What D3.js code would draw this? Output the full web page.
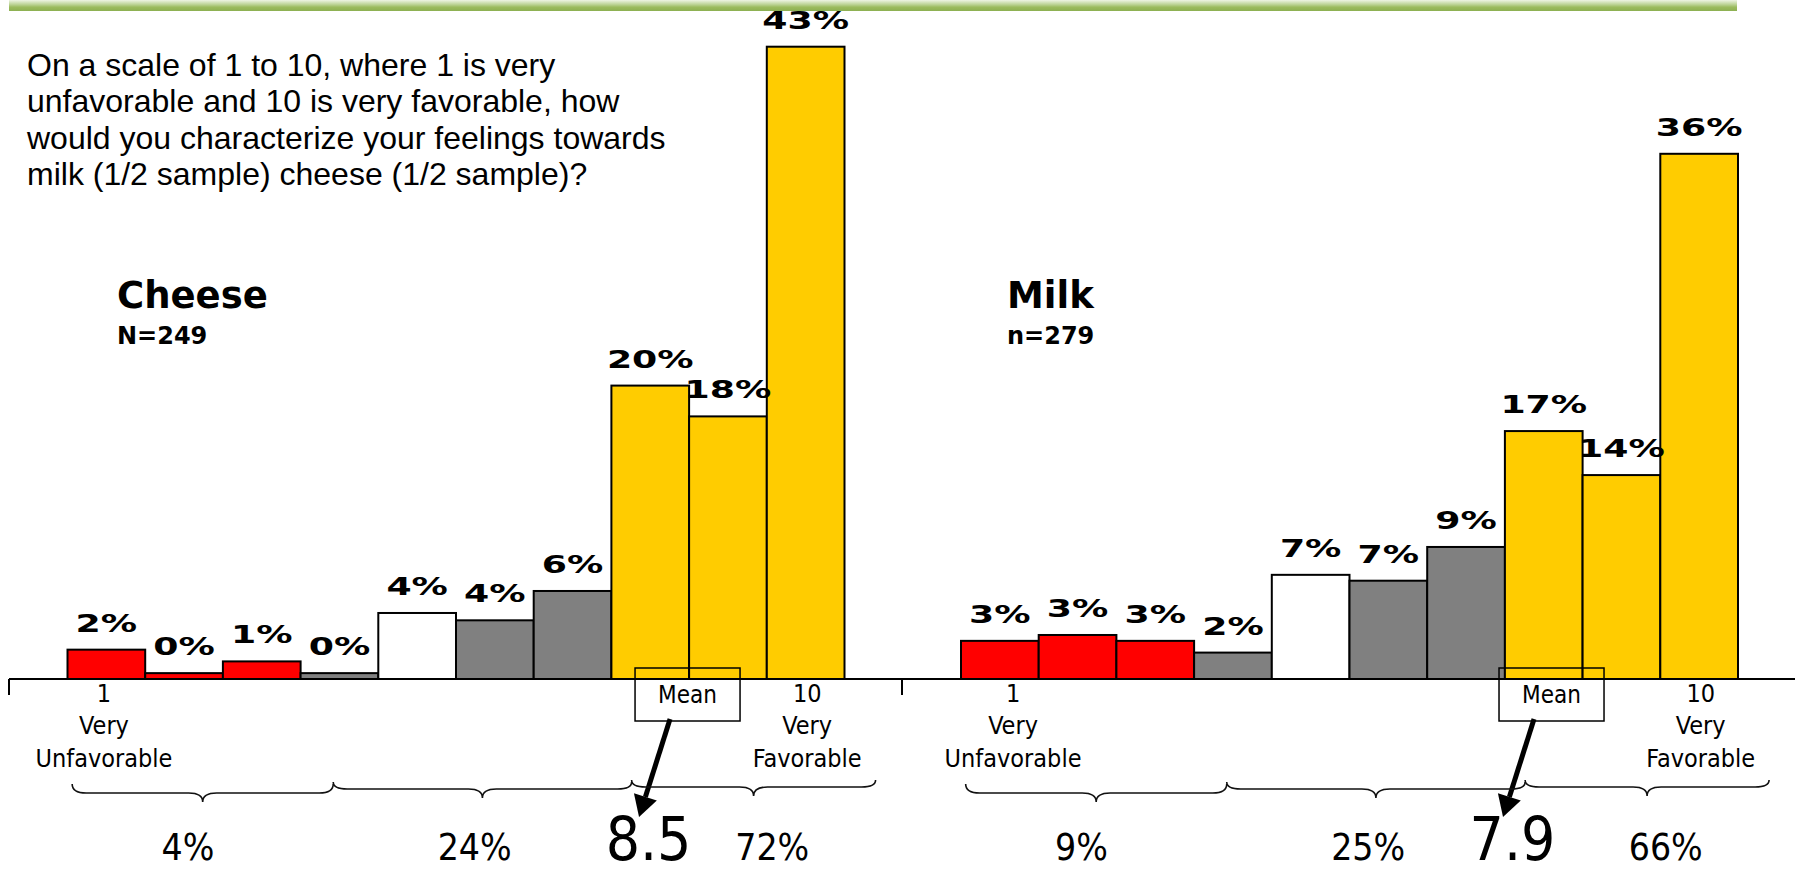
<!DOCTYPE html>
<html lang="en">
<head>
<meta charset="utf-8">
<title>Cheese and milk favorability</title>
<script src="https://cdn.jsdelivr.net/npm/d3@7/dist/d3.min.js"></script>
<style>
  body { margin: 0; background: #fff; }
  svg { display: block; }
</style>
</head>
<body>
<script>
// rating scale 1..10
var categories = [1, 2, 3, 4, 5, 6, 7, 8, 9, 10];

// share of answers per rating
var cheeseValues = [2.0, 0.4, 1.2, 0.4, 4.5, 4.0, 6.0, 20.0, 17.9, 43.1];
var milkValues   = [2.6, 3.0, 2.6, 1.8, 7.1, 6.7, 9.0, 16.9, 13.9, 35.8];

// labels printed above the bars
var cheeseLabels = ["2%", "0%", "1%", "0%", "4%", "4%", "6%", "20%", "18%", "43%"];
var milkLabels   = ["3%", "3%", "3%", "2%", "7%", "7%", "9%", "17%", "14%", "36%"];

// bottom / middle / top groups
var cheeseGroups = ["4%", "24%", "72%"];
var milkGroups   = ["9%", "25%", "66%"];

var cheeseMean = "8.5";
var milkMean = "7.9";

var barColors = ["#FF0000", "#FF0000", "#FF0000", "#808080", "#FFFFFF",
                 "#808080", "#808080", "#FFCC00", "#FFCC00", "#FFCC00"];

var question = ["On a scale of 1 to 10, where 1 is very",
                "unfavorable and 10 is very favorable, how",
                "would you characterize your feelings towards",
                "milk (1/2 sample) cheese (1/2 sample)?"];

// brace spans and group label spots, in rating units
var braceSpans = [[0.56, 3.92], [3.92, 7.76], [7.76, 10.9]];
var braceTop = [784, 782, 780];
var braceDrop = [9, 7, 7];
var groupAt = [2.05, 5.74, 9.57];

var w = 1795;
var h = 876;
var baseY = 679;
var chartW = 777;

var condensed = "'DejaVu Sans Condensed', 'Liberation Sans', sans-serif";

var svg = d3.select("body")
            .append("svg")
            .attr("width", w)
            .attr("height", h);

// green rule across the top
var grad = svg.append("defs").append("linearGradient")
              .attr("id", "rule")
              .attr("x1", 0).attr("y1", 0).attr("x2", 0).attr("y2", 1);
grad.append("stop").attr("offset", "0%").attr("stop-color", "#eef4e4");
grad.append("stop").attr("offset", "45%").attr("stop-color", "#b6cf8c");
grad.append("stop").attr("offset", "65%").attr("stop-color", "#9bbb5e");
grad.append("stop").attr("offset", "100%").attr("stop-color", "#8db052");

svg.append("rect")
   .attr("x", 9).attr("y", 0)
   .attr("width", 1728).attr("height", 11)
   .attr("fill", "url(#rule)");

svg.append("g")
   .selectAll("text")
   .data(question)
   .enter()
   .append("text")
   .attr("x", 27)
   .attr("y", function(d, i) { return 76 + i * 36.3; })
   .attr("font-family", "'Liberation Sans', Arial, sans-serif")
   .attr("font-size", 32)
   .attr("fill", "#000")
   .text(function(d) { return d; });

var y = d3.scaleLinear()
          .domain([0, 43.1])
          .range([baseY, 46.7]);

var panels = [
  { title: "Cheese", n: "N=249", values: cheeseValues, labels: cheeseLabels,
    groups: cheeseGroups, mean: cheeseMean, left: 67.5, axisFrom: 9, axisTo: 902,
    titleX: 117, boxAt: 8.48, lowAt: 0.97 },
  { title: "Milk", n: "n=279", values: milkValues, labels: milkLabels,
    groups: milkGroups, mean: milkMean, left: 961, axisFrom: 902, axisTo: 1795,
    titleX: 1007, boxAt: 8.1, lowAt: 1.17 }
];

var drawPanel = function(p) {
  var g = svg.append("g");

  var x = d3.scaleBand()
            .domain(categories)
            .range([p.left, p.left + chartW])
            .padding(0);
  // rating value -> position (bar centres sit on whole ratings)
  var s = d3.scaleLinear()
            .domain([0.5, 10.5])
            .range([p.left, p.left + chartW]);

  g.append("text")
   .attr("x", p.titleX).attr("y", 308)
   .attr("font-family", "'DejaVu Sans', sans-serif")
   .attr("font-weight", "bold")
   .attr("font-size", 37)
   .text(p.title);

  g.append("text")
   .attr("x", p.titleX).attr("y", 344)
   .attr("font-family", "'DejaVu Sans', sans-serif")
   .attr("font-weight", "bold")
   .attr("font-size", 24)
   .text(p.n);

  g.selectAll("rect.bar")
   .data(p.values)
   .enter()
   .append("rect")
   .attr("class", "bar")
   .attr("x", function(d, i) { return x(categories[i]); })
   .attr("y", function(d) { return y(d); })
   .attr("width", x.bandwidth())
   .attr("height", function(d) { return baseY - y(d); })
   .attr("fill", function(d, i) { return barColors[i]; })
   .attr("stroke", "#000")
   .attr("stroke-width", 2);

  // the bar labels are set in a wide bold face
  g.selectAll("text.val")
   .data(p.values)
   .enter()
   .append("text")
   .attr("class", "val")
   .attr("transform", function(d, i) {
     return "translate(" + (x(categories[i]) + x.bandwidth() / 2) + "," + (y(d) - 18) + ") scale(1.45,1)";
   })
   .attr("text-anchor", "middle")
   .attr("font-family", "'DejaVu Sans', sans-serif")
   .attr("font-weight", "bold")
   .attr("font-size", 25)
   .text(function(d, i) { return p.labels[i]; });

  // baseline with a small tick at its left end
  g.append("line")
   .attr("x1", p.axisFrom).attr("x2", p.axisTo)
   .attr("y1", baseY).attr("y2", baseY)
   .attr("stroke", "#000").attr("stroke-width", 2);
  g.append("line")
   .attr("x1", p.axisFrom).attr("x2", p.axisFrom)
   .attr("y1", baseY).attr("y2", baseY + 16)
   .attr("stroke", "#000").attr("stroke-width", 2);

  var ends = [
    { at: p.lowAt, lines: ["1", "Very", "Unfavorable"] },
    { at: 10.02, lines: ["10", "Very", "Favorable"] }
  ];
  ends.forEach(function(e) {
    g.append("g")
     .selectAll("text")
     .data(e.lines)
     .enter()
     .append("text")
     .attr("x", s(e.at))
     .attr("y", function(d, i) { return 702 + i * 32.3; })
     .attr("text-anchor", "middle")
     .attr("font-family", condensed)
     .attr("font-size", 25)
     .text(function(d) { return d; });
  });

  // mean box + arrow
  var cx = s(p.boxAt);
  g.append("rect")
   .attr("x", cx - 52.5).attr("y", 668)
   .attr("width", 105).attr("height", 53)
   .attr("fill", "none")
   .attr("stroke", "#000").attr("stroke-width", 1.5);
  g.append("text")
   .attr("x", cx).attr("y", 703)
   .attr("text-anchor", "middle")
   .attr("font-family", condensed)
   .attr("font-size", 24)
   .text("Mean");

  var x0 = cx - 17.5, y0 = 719, x1 = cx - 48.5, y1 = 817;
  var len = Math.sqrt((x1 - x0) * (x1 - x0) + (y1 - y0) * (y1 - y0));
  var ux = (x1 - x0) / len, uy = (y1 - y0) / len;
  var head = 21, half = 12;
  var bx = x1 - ux * head, by = y1 - uy * head;
  g.append("line")
   .attr("x1", x0).attr("y1", y0)
   .attr("x2", bx).attr("y2", by)
   .attr("stroke", "#000").attr("stroke-width", 5);
  g.append("path")
   .attr("d", "M" + x1 + "," + y1 +
              "L" + (bx - uy * half) + "," + (by + ux * half) +
              "L" + (bx + uy * half) + "," + (by - ux * half) + "Z")
   .attr("fill", "#000");

  g.append("text")
   .attr("x", cx - 39).attr("y", 860)
   .attr("text-anchor", "middle")
   .attr("font-family", condensed)
   .attr("font-size", 60)
   .text(p.mean);

  // curly braces under the scale
  braceSpans.forEach(function(b, i) {
    var xa = s(b[0]), xb = s(b[1]), m = (xa + xb) / 2;
    var t = braceTop[i], l = t + braceDrop[i], tip = l + 9, r = 14;
    var d = "M" + xa + "," + t +
            "Q" + xa + "," + l + " " + (xa + r) + "," + l +
            "L" + (m - r) + "," + l +
            "Q" + m + "," + l + " " + m + "," + tip +
            "Q" + m + "," + l + " " + (m + r) + "," + l +
            "L" + (xb - r) + "," + l +
            "Q" + xb + "," + l + " " + xb + "," + t;
    g.append("path")
     .attr("d", d)
     .attr("fill", "none")
     .attr("stroke", "#111")
     .attr("stroke-width", 1.6);
  });

  g.selectAll("text.grp")
   .data(p.groups)
   .enter()
   .append("text")
   .attr("class", "grp")
   .attr("x", function(d, i) { return s(groupAt[i]); })
   .attr("y", 860)
   .attr("text-anchor", "middle")
   .attr("font-family", condensed)
   .attr("font-size", 37)
   .text(function(d) { return d; });
};

panels.forEach(drawPanel);
</script>
</body>
</html>
